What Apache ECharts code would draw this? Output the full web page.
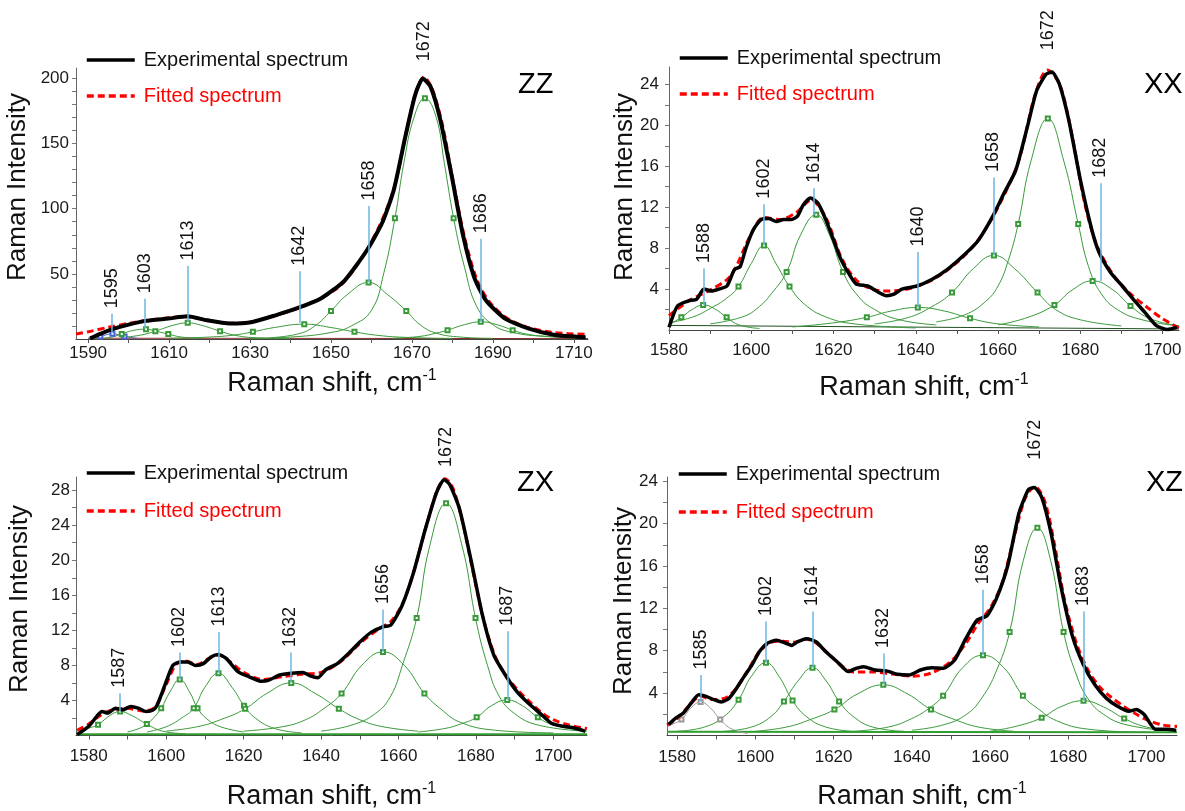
<!DOCTYPE html>
<html style="height: 100%">
<head>
<meta charset="utf-8">
<title>Raman spectra ZZ XX ZX XZ</title>
<script src="https://cdn.jsdelivr.net/npm/echarts@6/dist/echarts.min.js"></script>
</head>
<body style="height: 100%; margin: 0; background: #fff">
<div id="container" style="width: 1185px; height: 811px"></div>
<script type="text/javascript">
// ---------- ZZ ----------
var zzExp = [[1590.5,0.5],[1593,4],[1596.6,8.1],[1600,11],[1604.2,13.9],[1609.8,15.7],[1614.6,17.4],[1619.3,14.4],[1625,11.9],[1630.6,13.1],[1636.3,18.2],[1642,24],[1647.6,31.3],[1653.3,44.7],[1659,68.7],[1662.8,90.2],[1665.6,115.4],[1668.4,155.8],[1670.8,187.4],[1672.7,200],[1674.6,193.7],[1677,168.4],[1679.8,125.5],[1682.6,80],[1685.4,47.2],[1688.3,29.6],[1693,15.7],[1698.7,8.1],[1705.3,3],[1712.9,1.3]];
var zzFit = [[1587,3.8],[1590,5.5],[1595,9],[1600,12],[1605,14.5],[1610,16.3],[1614,17.2],[1618,15.5],[1622,13],[1626,12],[1630,13],[1636,17.8],[1642,23.8],[1648,32],[1653,43],[1658,64],[1662,87],[1665.5,115],[1668.5,157],[1671,190],[1673,201],[1675,192],[1677.5,165],[1680,124],[1683,78],[1686,46],[1689,29],[1693,17],[1698,9.5],[1705,5],[1713.5,3.5]];
var zzC1595 = [[1590,0.5],[1593,2],[1596,4],[1599,2],[1602,0.5]];
var zzC1603 = [[1592,0.3],[1595,1],[1598.3,3.8],[1601,6.5],[1604.3,7.5],[1606.7,6],[1609.8,3.8],[1613,1.5],[1618,0.5]];
var zzC1613 = [[1598,1],[1603,3],[1606.6,6],[1611,10.5],[1614.6,12.4],[1618,10.5],[1622.6,6],[1626,3],[1631,1],[1640,0.3]];
var zzC1642 = [[1610,0.5],[1620,1.5],[1626,3],[1630.7,5.5],[1636,8.8],[1643.4,11.4],[1650,8.8],[1655.8,5.5],[1661,3],[1668,1.3],[1680,0.4]];
var zzC1658 = [[1635,1],[1642,4],[1646,10],[1650,21.5],[1654,34],[1659.3,43.4],[1664,34],[1668.6,21.5],[1672,11],[1676,4.5],[1682,1.5],[1690,0.5]];
var zzC1672 = [[1630,0.5],[1640,1.5],[1650,5],[1655,10],[1660,22],[1663,50],[1665.8,92.7],[1668,135],[1670.5,170],[1673.2,184.8],[1676,170],[1678,135],[1680.3,92.7],[1683,55],[1686,25],[1690,11],[1695,5],[1703,2],[1713,1]];
var zzC1686 = [[1665,0.5],[1672,2],[1676,4.5],[1678.8,6.8],[1683,11],[1687,13.2],[1691,11],[1694.9,6.8],[1698,4],[1703,2],[1713,0.5]];
var zzBase = [[1590,0.6],[1713.5,0.3]];
var zzPeaks = ['1595','1603','1613','1642','1658','1672','1686'];
var zzPeakX = [1595.9,1604.0,1614.6,1642.2,1659.3,1673.0,1687.0];
var zzPeakTop = [19.4,30.8,56,52,102,209,77];
var zzPeakBottom = [4.5,8.1,13,12.4,43.4,184.8,13];

// ---------- XX ----------
var xxExp = [[1580,0.27],[1582.1,2.37],[1584.8,2.85],[1586.7,3.0],[1588.5,4.0],[1590.4,3.8],[1592.2,4.0],[1594.1,4.3],[1595.9,5.9],[1597.3,6.2],[1598.7,8.0],[1600.5,9.8],[1602.4,10.8],[1604.2,10.9],[1606.1,10.6],[1607.9,10.8],[1609.8,10.8],[1611.2,11.1],[1612.6,12.2],[1614.4,12.9],[1616.2,12.4],[1618.1,10.8],[1620,8.8],[1621.8,6.9],[1623.6,5.6],[1625.5,4.5],[1628.3,4.3],[1631,3.67],[1632.9,3.34],[1634.7,3.5],[1636.6,4.0],[1640.3,4.3],[1644,4.96],[1647.7,5.93],[1651.4,7.2],[1655.1,8.7],[1658.7,11.1],[1661.5,13.4],[1664.3,15.6],[1667.1,19.8],[1669.4,23.4],[1671.7,25.0],[1673.1,25.2],[1674.9,24.05],[1677.2,20.5],[1680,14.7],[1682.8,9.8],[1684.6,7.55],[1687.4,5.6],[1690.2,4.3],[1692.9,3.0],[1695.7,1.72],[1698.5,0.43],[1701.2,0.05],[1703.5,0.27]];
var xxFit = [[1580,1.4],[1585,2.9],[1590,3.9],[1595,5.3],[1600,9.4],[1603,11.0],[1607,10.8],[1611,11.5],[1614.5,12.7],[1618,11.1],[1622,7],[1626,4.7],[1632,3.8],[1638,4.0],[1644,4.9],[1650,6.6],[1655,8.7],[1660,12],[1665,16.5],[1669,23],[1672,25.4],[1675,24],[1678,19],[1681,12.5],[1684,8.3],[1688,5.4],[1692,3.6],[1696,2.3],[1700,1.1],[1704,0.2]];
var xxC1588 = [[1580,0.5],[1583,1.24],[1586,2.1],[1588.3,2.44],[1591,2.1],[1594,1.24],[1597,0.5],[1602,0.15]];
var xxC1602 = [[1580,0.7],[1586,1.3],[1590,2.1],[1594,3.1],[1596.9,4.25],[1600,6.5],[1603.1,8.26],[1606,6.5],[1609.3,4.25],[1613,2.5],[1618,1.3],[1625,0.6],[1640,0.2]];
var xxC1614 = [[1590,0.6],[1598,1.3],[1602,2.3],[1605,3.6],[1608.6,5.67],[1612,9.3],[1615.8,11.27],[1619,9.3],[1622.3,5.67],[1626,3.3],[1630,2],[1636,1],[1645,0.5]];
var xxC1640 = [[1610,0.3],[1620,0.7],[1628.1,1.24],[1634,1.85],[1640.5,2.2],[1647,1.85],[1653.2,1.14],[1660,0.6],[1670,0.3]];
var xxC1658 = [[1630,0.6],[1638,1.2],[1644,2.3],[1648.8,3.66],[1654,6.0],[1659,7.29],[1664,6.0],[1669.6,3.66],[1674,2],[1680,1],[1690,0.4]];
var xxC1672 = [[1645,0.8],[1652,1.5],[1657,2.8],[1660,4.3],[1662.5,6.8],[1664.9,10.36],[1668,16.5],[1672.1,20.66],[1676,16.5],[1679.5,10.36],[1682,6.2],[1685,3.6],[1689,2],[1695,1],[1704,0.4]];
var xxC1682 = [[1660,0.5],[1667,1.2],[1673.7,2.44],[1678,3.9],[1683,4.8],[1688,3.9],[1692.2,2.35],[1697,1.1],[1704,0.4]];
var xxBase = [[1580,0.45],[1704,0.1]];
var xxPeaks = ['1588','1602','1614','1640','1658','1672','1682'];
var xxPeakX = [1588.4,1603.1,1615.3,1640.5,1658.9,1672.1,1684.9];
var xxPeakTop = [6.0,12.3,13.86,7.61,14.9,26.8,14.34];
var xxPeakBottom = [2.43,8.26,11.27,2.21,7.29,20.65,4.8];

// ---------- ZX ----------
var zxExp = [[1577,0.1],[1580,1.05],[1582.4,2.37],[1583.4,2.74],[1584.9,2.56],[1586.9,3.12],[1588.8,2.93],[1590.8,3.31],[1592.8,3.12],[1594.8,2.74],[1596.7,2.93],[1597.7,3.5],[1599.7,5.8],[1601.7,8.0],[1603.7,8.4],[1605.6,8.4],[1607.6,8.0],[1609.6,8.2],[1611.6,8.97],[1613.5,9.24],[1615.5,8.8],[1618.5,7.3],[1621.4,6.7],[1624.4,6.2],[1626.4,6.3],[1629.3,6.9],[1632.3,7.1],[1635.3,7.2],[1637.2,6.8],[1639.2,6.6],[1641.2,7.5],[1644.2,8.2],[1647.1,9.35],[1650.1,10.7],[1653,11.8],[1656,12.4],[1658,12.6],[1660.9,14.8],[1663.9,18.6],[1666.9,23.5],[1669.8,27.7],[1671.8,29.2],[1673.3,28.6],[1675.8,25.8],[1678.7,20.1],[1681.7,13.7],[1684.6,9.2],[1687.6,6.9],[1690.6,5.0],[1693.5,3.7],[1696.5,2.56],[1699.5,1.4],[1702.4,1.05],[1705.4,0.86],[1708.3,0.48]];
var zxFit = [[1577,0.6],[1580,1.3],[1583,2.3],[1586,2.9],[1590,3.1],[1594,2.8],[1597,3.2],[1600,5.8],[1602.5,8.1],[1605,8.5],[1608,8.1],[1611,8.8],[1613.5,9.2],[1616,8.6],[1620,7.2],[1625,6.4],[1630,6.7],[1635,7.0],[1640,7.2],[1645,8.4],[1650,10.5],[1655,12.2],[1658,13],[1661,15],[1664,18.8],[1667,23.6],[1670,28],[1672,29.3],[1674,28.3],[1676.5,24.5],[1679,19.2],[1682,13.2],[1685,9],[1688,6.7],[1691,5.1],[1694,3.8],[1697,2.6],[1700,1.8],[1704,1.2],[1708.7,0.8]];
var zxC1587 = [[1577,0.5],[1580,0.85],[1582.4,1.24],[1585.5,2.3],[1588.1,2.74],[1591,2.3],[1595,1.3],[1599,0.5],[1605,0.2]];
var zxC1602 = [[1590,0.4],[1594,1],[1596.5,1.9],[1598.7,3.12],[1601,5],[1603.5,6.4],[1606,5],[1608.1,3.12],[1610.5,1.9],[1614,1],[1620,0.4]];
var zxC1613 = [[1595,0.4],[1600,1],[1604,2],[1607.1,3.12],[1610,5.5],[1613.5,7.1],[1617,5.5],[1620.1,3.4],[1623,2],[1628,0.8],[1635,0.3]];
var zxC1632 = [[1600,0.5],[1608,1],[1614,1.8],[1620.4,3.05],[1626,4.8],[1632.3,6.0],[1638.5,4.8],[1644.6,3.05],[1650,1.8],[1656,1],[1665,0.5]];
var zxC1656 = [[1620,0.5],[1630,1],[1636,1.8],[1640.5,3],[1645.3,4.8],[1650.5,8],[1656,9.54],[1661.5,8],[1666.7,4.8],[1671,3],[1676,1.5],[1685,0.6],[1700,0.3]];
var zxC1672 = [[1640,0.5],[1648,1.2],[1654,2.5],[1658,4.5],[1661,8],[1664.7,13.4],[1668,21.5],[1672.3,26.5],[1676.5,21.5],[1679.9,13.4],[1683,8],[1686,4.5],[1690,2.5],[1696,1.2],[1708,0.5]];
var zxC1687 = [[1665,0.4],[1672,0.8],[1676,1.3],[1680.2,2.07],[1684,3.4],[1688.1,4.06],[1692,3.4],[1696,2.07],[1700,1.2],[1708.7,0.5]];
var zxBase = [[1577,0.15],[1708.7,0.15]];
var zxPeaks = ['1587','1602','1613','1632','1656','1672','1687'];
var zxPeakX = [1587.9,1603.4,1613.7,1632.1,1656,1672.3,1688.1];
var zxPeakTop = [4.82,9.46,11.8,9.46,14.37,30.0,11.9];
var zxPeakBottom = [2.74,6.4,7.1,6.03,9.54,26.5,4.06];

// ---------- XZ ----------
var xzExp = [[1577.8,1.04],[1579.7,1.67],[1581.6,2.13],[1583.6,3.07],[1585.5,3.85],[1587.4,3.69],[1589.4,3.38],[1591.3,3.16],[1593.3,3.53],[1595.2,4.47],[1597.1,5.56],[1599.1,6.65],[1601,7.9],[1603,8.7],[1605.4,9.0],[1607.8,8.7],[1609.3,8.5],[1610.7,8.83],[1613.1,9.14],[1615.6,8.83],[1618,7.9],[1620.9,6.96],[1623.8,6.03],[1625.7,6.34],[1627.7,6.5],[1630.6,6.18],[1633.5,6.1],[1636.4,5.78],[1639.3,5.71],[1642.2,6.18],[1645.1,6.4],[1648,6.34],[1650.9,7.1],[1653.8,9.14],[1656.7,10.9],[1659.2,11.3],[1661.6,12.9],[1664.5,16],[1667.4,21],[1669.8,23.2],[1671.3,23.4],[1673.2,22.5],[1675.6,19.1],[1678.1,14.1],[1681,9.45],[1683.9,6.65],[1686.8,4.78],[1689.7,3.53],[1692.6,2.76],[1695.5,2.29],[1697.4,2.45],[1699.4,1.98],[1702.3,0.58],[1705.2,0.58],[1707.6,0.48]];
var xzFit = [[1577.4,1.0],[1580,1.6],[1583,2.8],[1586,3.7],[1589,3.4],[1592,3.5],[1595,4.4],[1598,6.1],[1601,7.9],[1604,8.8],[1607,8.9],[1610,8.8],[1613,9.1],[1616,8.6],[1619,7.6],[1622,6.6],[1625,6.0],[1630,6.0],[1635,5.8],[1640,5.6],[1645,5.9],[1650,7.0],[1654,8.8],[1657,10.6],[1660,12],[1663,14.3],[1666,18.5],[1669,22.4],[1671.5,23.5],[1674,22.1],[1676.5,18],[1679,12.9],[1682,8.8],[1685,6.2],[1688,4.6],[1691,3.6],[1694,2.8],[1697,2.1],[1700,1.5],[1704,1.0],[1707.8,0.85]];
var xzC1585 = [[1577.4,0.8],[1579,1.1],[1581.1,1.5],[1583.5,2.6],[1586,3.16],[1588.5,2.6],[1591,1.5],[1594,0.6],[1598,0.2]];
var xzC1602 = [[1580,0.4],[1587,0.8],[1592,1.8],[1595.7,3.38],[1599,5.6],[1602.7,6.87],[1606,5.6],[1609.5,3.3],[1613,1.8],[1618,0.8],[1625,0.4]];
var xzC1614 = [[1592,0.4],[1599,0.8],[1604,1.8],[1607.3,3.22],[1611,5.2],[1614.6,6.4],[1618,5.2],[1621.4,3.22],[1625,1.8],[1630,0.8],[1638,0.4]];
var xzC1632 = [[1600,0.4],[1608,0.8],[1614,1.5],[1620.2,2.45],[1626,3.9],[1632.7,4.78],[1639,3.9],[1644.9,2.45],[1651,1.5],[1657,0.8],[1666,0.4]];
var xzC1658 = [[1625,0.4],[1634,0.8],[1640,1.6],[1644.5,2.6],[1648,3.75],[1653,6.4],[1658.2,7.58],[1663.5,6.4],[1668.4,3.75],[1672,2.6],[1677,1.4],[1685,0.6],[1700,0.3]];
var xzC1672 = [[1640,0.5],[1648,1],[1654,2],[1658,3.6],[1661.5,6],[1665,9.76],[1668.5,16.5],[1672.1,19.6],[1675.5,16.5],[1678.8,9.76],[1682,5.8],[1685,3.5],[1689,2],[1695,1],[1707,0.4]];
var xzC1683 = [[1660,0.4],[1667,0.9],[1673.2,1.67],[1678,2.7],[1683.9,3.28],[1689,2.7],[1694.3,1.6],[1700,0.8],[1707.8,0.4]];
var xzBase = [[1577.4,0.35],[1707.8,0.3]];
var xzPeaks = ['1585','1602','1614','1632','1658','1672','1683'];
var xzPeakX = [1586.0,1602.7,1614.6,1632.7,1658.2,1671.6,1683.9];
var xzPeakTop = [5.7,10.76,11.7,7.74,13.75,25.5,11.7];
var xzPeakBottom = [3.16,6.87,6.4,4.78,7.58,19.6,3.28];

// tick labels
var zzXLabels = [1590, 1610, 1630, 1650, 1670, 1690, 1710];
var otherXLabels = [1580, 1600, 1620, 1640, 1660, 1680, 1700];
var zzYLabels = [50, 100, 150, 200];
var xxYLabels = [4, 8, 12, 16, 20, 24];
var zxYLabels = [4, 8, 12, 16, 20, 24, 28];
var xzYLabels = [4, 8, 12, 16, 20, 24];

function steps(a, b, s) {
    var r = [];
    for (var v = a; v <= b + 1e-9; v += s) r.push(v);
    return r;
}

var panels = [
    {tag: 'ZZ', exp: zzExp, fit: zzFit, comps: [zzC1595, zzC1603, zzC1613, zzC1642, zzC1658, zzC1672, zzC1686], base: zzBase,
     peaks: zzPeaks, peakX: zzPeakX, peakTop: zzPeakTop, peakBottom: zzPeakBottom,
     grid: {left: 76, top: 68, width: 512, height: 271}, x: [1587.0, 1713.5], y: [0, 208],
     xLabels: zzXLabels, xTicks: steps(1590, 1710, 10), yLabels: zzYLabels, yTicks: steps(10, 200, 10),
     xMargin: 6, yMargin: 7, xGap: 29, yName: [18, 187], legend: [80, 45], title: [518, 70], baseColor: '#8b2a2a'},
    {tag: 'XX', exp: xxExp, fit: xxFit, comps: [xxC1588, xxC1602, xxC1614, xxC1640, xxC1658, xxC1672, xxC1682], base: xxBase,
     peaks: xxPeaks, peakX: xxPeakX, peakTop: xxPeakTop, peakBottom: xxPeakBottom,
     grid: {left: 669, top: 67, width: 510, height: 263}, x: [1580, 1704], y: [0, 25.7],
     xLabels: otherXLabels, xTicks: steps(1580, 1700, 10), yLabels: xxYLabels, yTicks: steps(2, 24, 2),
     xMargin: 12, yMargin: 10, xGap: 42, yName: [625, 187], legend: [673, 43], title: [1144, 70], baseColor: '#1f4f1f'},
    {tag: 'ZX', exp: zxExp, fit: zxFit, comps: [zxC1587, zxC1602, zxC1613, zxC1632, zxC1656, zxC1672, zxC1687], base: zxBase,
     peaks: zxPeaks, peakX: zxPeakX, peakTop: zxPeakTop, peakBottom: zxPeakBottom,
     grid: {left: 76, top: 477, width: 511, height: 261}, x: [1576.7, 1708.7], y: [0, 29.5],
     xLabels: otherXLabels, xTicks: steps(1580, 1700, 10), yLabels: zxYLabels, yTicks: steps(2, 28, 2),
     xMargin: 12, yMargin: 6, xGap: 45, yName: [20, 599], legend: [80, 458], title: [517, 468], baseColor: '#2e9e2e'},
    {tag: 'XZ', exp: xzExp, fit: xzFit, comps: [xzC1585, xzC1602, xzC1614, xzC1632, xzC1658, xzC1672, xzC1683], base: xzBase,
     peaks: xzPeaks, peakX: xzPeakX, peakTop: xzPeakTop, peakBottom: xzPeakBottom,
     grid: {left: 667, top: 477, width: 510, height: 261}, x: [1577.4, 1707.8], y: [0, 24.4],
     xLabels: otherXLabels, xTicks: steps(1580, 1700, 10), yLabels: xzYLabels, yTicks: steps(2, 24, 2),
     xMargin: 13, yMargin: 9, xGap: 45, yName: [624, 601], legend: [672, 459], title: [1146, 468], baseColor: '#2e9e2e'}
];

// markers on a fitted component: its top and the two half-height points
function markerIndexes(pts) {
    var p = 0;
    pts.forEach(function (pt, i) { if (pt[1] > pts[p][1]) p = i; });
    var half = pts[p][1] / 2, l = -1, r = -1;
    pts.forEach(function (pt, i) {
        if (i < p && (l < 0 || Math.abs(pt[1] - half) < Math.abs(pts[l][1] - half))) l = i;
        if (i > p && (r < 0 || Math.abs(pt[1] - half) < Math.abs(pts[r][1] - half))) r = i;
    });
    return [l, p, r];
}

var option = {
    animation: false,
    backgroundColor: '#fff',
    textStyle: {fontFamily: 'Liberation Sans, Arial, sans-serif'},
    grid: [], xAxis: [], yAxis: [], series: [], legend: [], title: [], graphic: []
};

panels.forEach(function (pn, i) {
    option.grid.push(pn.grid);
    option.xAxis.push({
        type: 'value', gridIndex: i, min: pn.x[0], max: pn.x[1],
        name: '{a|Raman shift, cm}{b|-1}', nameLocation: 'middle', nameGap: pn.xGap,
        nameTextStyle: {rich: {a: {fontSize: 27, color: '#111', lineHeight: 32}, b: {fontSize: 16, color: '#111', verticalAlign: 'top', lineHeight: 32}}},
        axisLine: {onZero: false, lineStyle: {color: '#444', width: 1}},
        axisTick: {show: true, length: 4, customValues: pn.xTicks, lineStyle: {color: '#555'}},
        axisLabel: {customValues: pn.xLabels, fontSize: 17, color: '#1a1a1a', margin: pn.xMargin,
                    formatter: function (v) { return String(v); }},
        splitLine: {show: false}
    });
    option.yAxis.push({
        type: 'value', gridIndex: i, min: pn.y[0], max: pn.y[1],
        axisLine: {show: true, onZero: false, lineStyle: {color: '#666', width: 1}},
        axisTick: {show: true, length: 4, customValues: pn.yTicks, lineStyle: {color: '#777'}},
        axisLabel: {customValues: pn.yLabels, fontSize: 17, color: '#1a1a1a', margin: pn.yMargin},
        splitLine: {show: false}
    });
    option.graphic.push({
        type: 'text', x: pn.yName[0], y: pn.yName[1], rotation: Math.PI / 2,
        style: {text: 'Raman Intensity', font: '26px "Liberation Sans", Arial', fill: '#111', align: 'center', verticalAlign: 'middle'}
    });
    option.title.push({
        text: pn.tag, left: pn.title[0], top: pn.title[1], padding: 0,
        textStyle: {fontSize: 29, fontWeight: 'normal', color: '#000'}
    });
    option.legend.push({
        orient: 'vertical', left: pn.legend[0], top: pn.legend[1], selectedMode: false,
        itemWidth: 48, itemHeight: 14, itemGap: 16 + (i >= 2 ? 2 : 0),
        itemStyle: {opacity: 0},
        lineStyle: {width: 3.5},
        textStyle: {fontSize: 20, lineHeight: 20, color: '#111', padding: [0, 0, 0, 4]},
        data: [{name: 'Experimental spectrum'}, {name: 'Fitted spectrum', textStyle: {color: '#ff0000'}}]
    });

    option.series.push({
        type: 'line', name: 'baseline ' + pn.tag, xAxisIndex: i, yAxisIndex: i, data: pn.base,
        symbol: 'none', z: 1, lineStyle: {color: pn.baseColor, width: i >= 2 ? 2 : 1}
    });
    pn.comps.forEach(function (c, k) {
        var marks = markerIndexes(c);
        var col = '#3a9a3a';
        if (i === 3 && k === 0) col = '#999999';
        if (i === 0 && k === 0) col = '#4a62d8';
        option.series.push({
            type: 'line', name: pn.tag + ' component ' + pn.peaks[k], xAxisIndex: i, yAxisIndex: i,
            smooth: 0.45, z: 2, symbol: 'emptyRect', symbolSize: 4, showAllSymbol: true,
            lineStyle: {color: col, width: 1}, itemStyle: {color: col, borderWidth: 1},
            data: c.map(function (pt, j) {
                return {value: pt, symbol: marks.indexOf(j) >= 0 ? 'emptyRect' : 'none'};
            })
        });
    });
    option.series.push({
        type: 'line', name: 'Fitted spectrum', xAxisIndex: i, yAxisIndex: i, data: pn.fit,
        smooth: 0.3, symbol: 'none', z: 3, color: '#ff0000',
        lineStyle: {color: '#ff0000', width: 3, type: [7, 4]}
    });
    option.series.push({
        type: 'line', name: 'Experimental spectrum', xAxisIndex: i, yAxisIndex: i, data: pn.exp,
        smooth: 0.2, symbol: 'none', z: 4, color: '#000',
        lineStyle: {color: '#000', width: i === 0 ? 4 : 3.5}
    });
    option.series.push({
        type: 'scatter', name: 'peaks ' + pn.tag, xAxisIndex: i, yAxisIndex: i, clip: false, z: 5,
        symbolSize: 1, itemStyle: {color: '#fff', opacity: 0}, silent: true,
        data: pn.peakX.map(function (x, k) { return {value: [x, pn.peakTop[k]], name: pn.peaks[k]}; }),
        label: {show: true, position: 'top', distance: 5, rotate: 90, align: 'left', verticalAlign: 'middle',
                formatter: '{b}', fontSize: 18, color: '#111', opacity: 1},
        markLine: {
            silent: true, symbol: ['none', 'none'], label: {show: false},
            lineStyle: {color: '#6cb4e0', width: 1.5, type: 'solid', opacity: 1},
            data: pn.peakX.map(function (x, k) {
                return [{coord: [x, pn.peakBottom[k]]}, {coord: [x, pn.peakTop[k]]}];
            })
        }
    });
});

var chart = echarts.init(document.getElementById('container'));
chart.setOption(option);
</script>
</body>
</html>
